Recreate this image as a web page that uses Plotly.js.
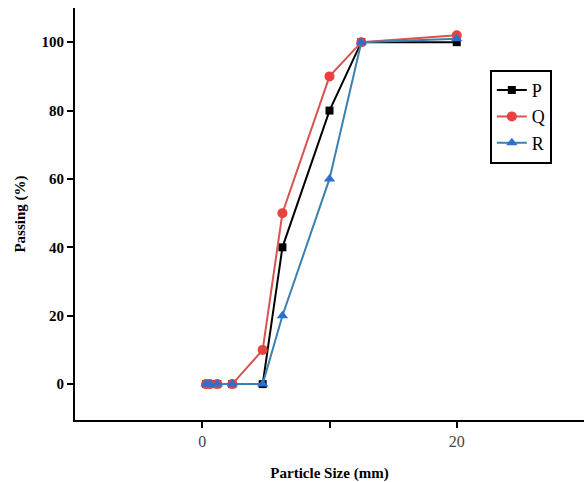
<!DOCTYPE html>
<html>
<head>
<meta charset="utf-8">
<script src="https://cdn.plot.ly/plotly-3.0.1.min.js"></script>
<style>html,body{margin:0;padding:0;background:#fff;}#chart{width:584px;height:482px;}</style>
</head>
<body>
<div id="chart"></div>
<script>
const sizes = [0.3, 0.6, 1.18, 2.36, 4.75, 6.3, 10, 12.5, 20];
const seriesP = [0, 0, 0, 0, 0, 40, 80, 100, 100];
const seriesQ = [0, 0, 0, 0, 10, 50, 90, 100, 102];
const seriesR = [0, 0, 0, 0, 0, 20, 60, 100, 101];
const xTickVals = [0, 10, 20];
const xTickText = ['0', '', '20'];
const yTickVals = [0, 20, 40, 60, 80, 100];

const serif = 'Liberation Serif, Times New Roman, serif';
const traces = [
  {x: sizes, y: seriesP, name: 'P', mode: 'lines+markers',
   line: {color: '#000000', width: 2}, marker: {symbol: 'square', size: 8, color: '#000000'}},
  {x: sizes, y: seriesQ, name: 'Q', mode: 'lines+markers',
   line: {color: '#d9534f', width: 2}, marker: {symbol: 'circle', size: 10, color: '#e8413f'}},
  {x: sizes, y: seriesR, name: 'R', mode: 'lines+markers',
   line: {color: '#3a80b0', width: 2}, marker: {symbol: 'triangle-up', size: 10, color: '#2b6fd1'}}
];
const layout = {
  width: 584, height: 482,
  margin: {l: 75, r: 0, t: 8, b: 62},
  paper_bgcolor: '#fff', plot_bgcolor: '#fff',
  showlegend: true,
  legend: {x: 0.815, y: 0.85, xanchor: 'left', yanchor: 'top',
    bordercolor: '#000', borderwidth: 2, bgcolor: '#fff',
    font: {family: serif, size: 18, color: '#000'}, tracegroupgap: 0},
  xaxis: {range: [-10, 30], tickvals: xTickVals, ticktext: xTickText,
    showline: true, linecolor: '#000', linewidth: 2, ticks: 'outside', ticklen: 6, tickwidth: 2, tickcolor: '#000',
    showgrid: false, zeroline: false, mirror: false,
    tickfont: {family: serif, size: 16, color: '#444'},
    title: {text: '<b>Particle Size (mm)</b>', font: {family: serif, size: 15, color: '#000'}, standoff: 18}},
  yaxis: {range: [-10.5, 110], tickvals: yTickVals,
    showline: true, linecolor: '#000', linewidth: 2, ticks: 'outside', ticklen: 6, tickwidth: 2, tickcolor: '#000',
    showgrid: false, zeroline: false,
    tickfont: {family: serif, size: 15, color: '#000', weight: 'bold'},
    title: {text: '<b>Passing (%)</b>', font: {family: serif, size: 15, color: '#000'}, standoff: 12}}
};
Plotly.newPlot('chart', traces, layout, {displayModeBar: false, staticPlot: true});
</script>
</body>
</html>
